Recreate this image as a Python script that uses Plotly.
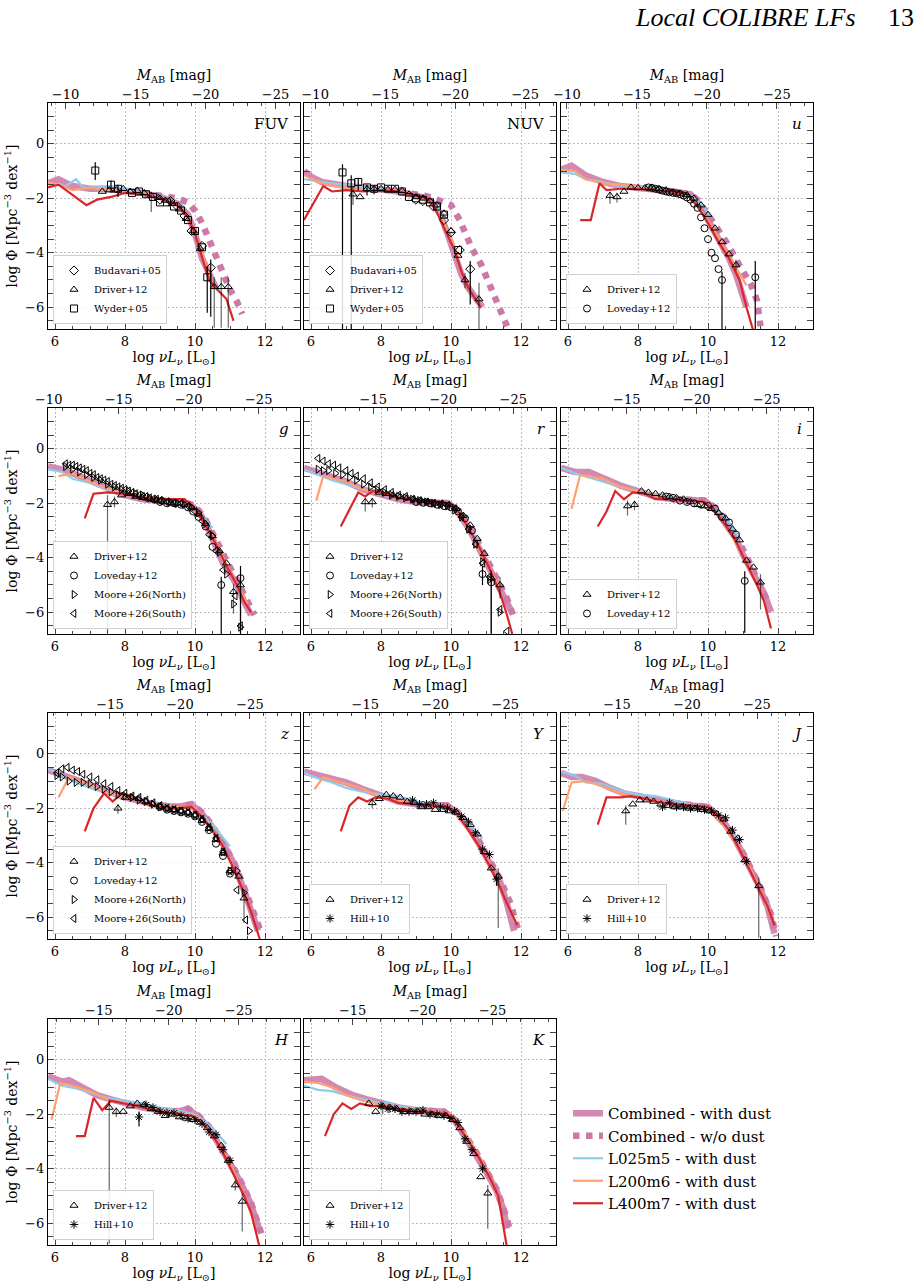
import plotly.graph_objects as go

W, H = 922, 1285
XR = [5.8, 13.0]
YR = [-6.8, 1.5]

BANDS = ["FUV", "NUV", "u", "g", "r", "i", "z", "Y", "J", "H", "K"]
BAND_TEXT = ["FUV", "NUV", "<i>u</i>", "<i>g</i>", "<i>r</i>", "<i>i</i>", "<i>z</i>",
             "<i>Y</i>", "<i>J</i>", "<i>H</i>", "<i>K</i>"]
# log nu L_nu corresponding to M_AB = -20 in each band (top-axis alignment)
M20_LOGL = [10.3, 10.12, 9.97, 9.82, 9.78, 9.68, 9.57, 9.55, 9.4, 9.25, 9.19]

COL_PX = [(48, 300), (304, 556), (561, 813)]
ROW_PX = [(103, 329), (408, 634), (713, 939), (1019, 1245)]

# ---------------- simulation curves ----------------
COMBINED = {
    "FUV": ([5.8, 6.1, 6.5, 7.0, 7.5, 8.0, 8.5, 9.0, 9.5, 9.8, 10.0, 10.2, 10.4, 10.6],
            [-1.45, -1.3, -1.55, -1.65, -1.65, -1.7, -1.8, -1.95, -2.2, -2.6, -3.3, -4.2, -4.8, -5.3]),
    "NUV": ([5.8, 6.0, 6.3, 6.7, 7.0, 7.5, 8.0, 8.5, 9.0, 9.3, 9.5, 9.7, 9.9, 10.1, 10.3, 10.5, 10.7, 10.9],
            [-1.0, -1.2, -1.4, -1.5, -1.55, -1.6, -1.65, -1.75, -1.9, -2.0, -2.2, -2.6, -3.3, -4.0, -4.8, -5.3, -5.7, -6.0]),
    "u": ([5.8, 6.1, 6.5, 7.0, 7.5, 8.0, 8.5, 9.0, 9.5, 9.8, 10.0, 10.3, 10.6, 10.8, 11.0, 11.1],
          [-0.95, -0.8, -1.15, -1.4, -1.55, -1.6, -1.68, -1.75, -1.85, -2.3, -2.8, -3.5, -4.2, -4.8, -5.6, -6.0]),
    "g": ([5.8, 6.2, 6.6, 7.0, 7.5, 8.0, 8.5, 9.0, 9.5, 9.8, 10.0, 10.2, 10.4, 10.6, 10.8, 11.0, 11.2, 11.4, 11.6],
          [-0.65, -0.75, -0.95, -1.15, -1.45, -1.7, -1.85, -1.9, -1.95, -2.0, -2.2, -2.5, -3.0, -3.6, -4.2, -4.6, -5.0, -5.6, -6.1]),
    "r": ([5.8, 6.2, 6.6, 7.0, 7.5, 8.0, 8.5, 9.0, 9.5, 9.9, 10.1, 10.3, 10.5, 10.7, 10.9, 11.1, 11.3, 11.5, 11.7],
          [-0.7, -0.85, -1.0, -1.2, -1.5, -1.7, -1.85, -1.95, -2.0, -2.0, -2.15, -2.5, -2.9, -3.4, -3.9, -4.4, -4.8, -5.3, -5.9]),
    "i": ([5.8, 6.2, 6.6, 7.0, 7.5, 8.0, 8.5, 9.0, 9.5, 9.9, 10.2, 10.5, 10.8, 11.0, 11.3, 11.6, 11.8],
          [-0.7, -0.85, -0.85, -1.1, -1.35, -1.55, -1.75, -1.85, -1.9, -1.9, -2.2, -2.8, -3.3, -3.9, -4.6, -5.3, -6.0]),
    "z": ([5.8, 6.2, 6.6, 7.0, 7.5, 8.0, 8.5, 9.0, 9.5, 9.9, 10.2, 10.5, 10.8, 11.1, 11.4, 11.6, 11.8],
          [-0.6, -0.75, -0.95, -1.15, -1.4, -1.6, -1.75, -1.9, -1.95, -1.85, -2.2, -2.7, -3.3, -4.0, -5.0, -5.8, -6.5]),
    "Y": ([5.8, 6.2, 6.6, 7.0, 7.5, 8.0, 8.5, 9.0, 9.5, 9.9, 10.2, 10.5, 10.8, 11.1, 11.4, 11.6, 11.8],
          [-0.65, -0.8, -0.9, -1.05, -1.3, -1.55, -1.75, -1.85, -1.9, -1.9, -2.2, -2.7, -3.3, -4.0, -4.7, -5.5, -6.5]),
    "J": ([5.8, 6.1, 6.4, 6.8, 7.2, 7.6, 8.0, 8.5, 9.0, 9.5, 10.0, 10.2, 10.5, 10.8, 11.1, 11.4, 11.7, 11.9],
          [-0.7, -0.85, -0.85, -1.0, -1.25, -1.45, -1.55, -1.7, -1.8, -1.9, -1.95, -2.2, -2.6, -3.2, -3.9, -4.7, -5.6, -6.6]),
    "H": ([5.8, 6.2, 6.4, 6.8, 7.2, 7.6, 8.0, 8.5, 9.0, 9.5, 9.8, 10.1, 10.4, 10.7, 11.0, 11.3, 11.6, 11.85],
          [-0.6, -0.8, -0.75, -1.05, -1.3, -1.45, -1.6, -1.75, -1.85, -1.9, -1.8, -2.1, -2.5, -3.1, -3.8, -4.5, -5.3, -6.3]),
    "K": ([5.8, 6.1, 6.3, 6.7, 7.2, 7.6, 8.0, 8.5, 9.0, 9.4, 9.8, 10.1, 10.4, 10.7, 11.0, 11.3, 11.5, 11.6],
          [-0.75, -0.75, -0.7, -1.0, -1.3, -1.45, -1.6, -1.75, -1.85, -1.85, -1.9, -2.2, -2.8, -3.4, -4.1, -4.8, -5.5, -6.2]),
}

NODUST = {
    "FUV": ([8.5, 9.0, 9.5, 9.8, 10.0, 10.2, 10.4, 10.6, 10.8, 11.0, 11.2, 11.35],
            [-1.8, -1.9, -2.0, -2.15, -2.45, -2.9, -3.55, -4.2, -4.75, -5.35, -5.8, -6.25]),
    "NUV": ([8.5, 9.0, 9.3, 9.6, 10.0, 10.25, 10.6, 10.85, 11.1, 11.4, 11.6],
            [-1.75, -1.85, -1.92, -2.05, -2.25, -2.8, -3.85, -4.4, -5.15, -6.05, -6.7]),
    "u": ([8.5, 9.0, 9.5, 9.72, 9.96, 10.24, 10.52, 10.75, 10.98, 11.22, 11.4, 11.5],
          [-1.68, -1.75, -1.85, -2.08, -2.5, -3.06, -3.6, -4.16, -4.65, -5.14, -5.75, -6.7]),
    "g": ([9.0, 9.5, 9.9, 10.1, 10.3, 10.5, 10.7, 10.9, 11.1, 11.3, 11.5, 11.7],
          [-1.9, -1.95, -2.05, -2.25, -2.6, -3.1, -3.65, -4.2, -4.65, -5.1, -5.6, -6.1]),
    "r": ([9.0, 9.5, 9.9, 10.2, 10.5, 10.8, 11.1, 11.4, 11.6, 11.8],
          [-1.95, -2.0, -2.0, -2.25, -2.8, -3.5, -4.25, -4.95, -5.5, -6.2]),
    "i": ([9.0, 9.5, 9.9, 10.2, 10.5, 10.8, 11.1, 11.4, 11.7],
          [-1.85, -1.9, -1.9, -2.15, -2.7, -3.2, -3.95, -4.75, -5.6]),
    "z": ([9.0, 9.5, 9.9, 10.2, 10.5, 10.8, 11.1, 11.4, 11.7, 11.9],
          [-1.9, -1.95, -1.85, -2.15, -2.65, -3.25, -3.95, -4.9, -5.9, -6.6]),
    "Y": ([9.0, 9.5, 9.9, 10.2, 10.5, 10.8, 11.1, 11.4, 11.7, 11.95],
          [-1.85, -1.9, -1.9, -2.15, -2.6, -3.2, -3.9, -4.6, -5.5, -6.6]),
    "J": ([9.0, 9.5, 10.0, 10.3, 10.6, 10.9, 11.2, 11.5, 11.8, 11.95],
          [-1.8, -1.9, -1.95, -2.3, -2.75, -3.4, -4.1, -4.9, -5.9, -6.7]),
    "H": ([9.0, 9.5, 9.8, 10.1, 10.4, 10.7, 11.0, 11.3, 11.6, 11.9],
          [-1.85, -1.9, -1.8, -2.05, -2.45, -3.05, -3.75, -4.45, -5.25, -6.4]),
    "K": ([9.0, 9.4, 9.8, 10.1, 10.4, 10.7, 11.0, 11.3, 11.5, 11.7],
          [-1.85, -1.85, -1.9, -2.2, -2.75, -3.35, -4.05, -4.75, -5.45, -6.3]),
}

L025M5 = {
    "FUV": ([5.8, 6.3, 6.6, 6.8, 7.2, 7.6, 8.0, 8.5, 9.0, 9.5, 9.7],
            [-1.45, -1.55, -1.3, -1.6, -1.6, -1.55, -1.65, -1.8, -1.95, -2.15, -2.35]),
    "NUV": ([5.8, 6.3, 6.6, 7.0, 7.5, 8.0, 8.5, 9.0, 9.5, 9.7],
            [-1.3, -1.4, -1.45, -1.5, -1.6, -1.65, -1.75, -1.9, -2.2, -2.5]),
    "u": ([5.8, 6.2, 6.5, 7.0, 7.5, 8.0, 8.5, 9.0, 9.5, 9.8, 10.1],
          [-1.05, -1.1, -1.3, -1.4, -1.6, -1.55, -1.6, -1.75, -1.9, -2.2, -2.7]),
    "g": ([5.8, 6.2, 6.5, 7.0, 7.5, 8.0, 8.5, 9.0, 9.5, 10.0, 10.5],
          [-0.75, -0.85, -1.1, -1.25, -1.5, -1.6, -1.75, -1.9, -2.0, -2.2, -2.9]),
    "r": ([5.8, 6.2, 6.6, 7.0, 7.5, 8.0, 8.5, 9.0, 9.5, 10.0, 10.5, 10.8],
          [-0.75, -0.95, -1.15, -1.3, -1.5, -1.65, -1.8, -1.9, -2.0, -2.1, -2.9, -3.4]),
    "i": ([5.8, 6.2, 6.6, 7.0, 7.5, 8.0, 8.5, 9.0, 9.5, 10.0, 10.5, 10.9],
          [-0.7, -0.9, -1.05, -1.2, -1.4, -1.55, -1.65, -1.75, -1.9, -2.05, -2.5, -3.3]),
    "z": ([5.8, 6.2, 6.6, 7.0, 7.5, 8.0, 8.5, 9.0, 9.5, 10.0, 10.5, 11.0],
          [-0.55, -0.8, -1.05, -1.25, -1.45, -1.6, -1.7, -1.85, -1.95, -2.05, -2.6, -3.4]),
    "Y": ([5.8, 6.2, 6.6, 7.0, 7.5, 8.0, 8.5, 9.0, 9.5, 10.0, 10.5, 10.9],
          [-0.7, -0.9, -1.05, -1.25, -1.4, -1.5, -1.55, -1.75, -1.85, -2.05, -2.6, -3.1]),
    "J": ([5.8, 6.2, 6.5, 7.0, 7.5, 8.0, 8.5, 9.0, 9.5, 10.0, 10.5, 10.9],
          [-0.65, -0.8, -1.05, -1.1, -1.35, -1.5, -1.55, -1.7, -1.85, -1.95, -2.6, -3.2]),
    "H": ([5.8, 6.2, 6.6, 7.0, 7.5, 8.0, 8.5, 9.0, 9.5, 10.0, 10.5, 10.9],
          [-0.7, -0.95, -1.05, -1.2, -1.4, -1.5, -1.6, -1.75, -1.85, -2.0, -2.5, -3.1]),
    "K": ([5.8, 6.2, 6.6, 7.0, 7.5, 8.0, 8.2, 8.5, 9.0, 9.5, 10.0, 10.3, 10.6, 10.8],
          [-0.95, -1.1, -1.15, -1.3, -1.45, -1.6, -1.55, -1.7, -1.8, -1.9, -2.05, -2.6, -3.3, -3.5]),
}

L200M6 = {
    "FUV": ([5.8, 6.1, 6.5, 7.0, 7.5, 8.0, 8.5, 9.0, 9.5, 9.8, 10.0, 10.2, 10.4],
            [-1.4, -1.5, -1.7, -1.6, -1.7, -1.75, -1.8, -2.0, -2.25, -2.7, -3.3, -4.0, -4.8]),
    "NUV": ([5.8, 6.3, 6.7, 7.0, 7.5, 8.0, 8.5, 9.0, 9.5, 9.8, 10.0, 10.2],
            [-1.15, -1.45, -1.55, -1.6, -1.7, -1.7, -1.75, -1.9, -2.25, -2.9, -3.5, -4.1]),
    "u": ([5.8, 6.2, 6.5, 7.0, 7.5, 8.0, 9.0, 9.5, 10.0, 10.5, 10.9, 11.1],
          [-0.95, -1.0, -1.3, -1.45, -1.5, -1.6, -1.75, -1.95, -2.8, -3.9, -4.8, -5.2]),
    "g": ([6.1, 6.5, 7.0, 7.5, 8.0, 9.0, 9.5, 10.0, 10.5, 11.0, 11.5],
          [-1.0, -0.9, -1.2, -1.45, -1.6, -1.85, -1.9, -2.2, -3.2, -4.5, -5.7]),
    "r": ([6.15, 6.35, 7.0, 7.5, 8.0, 9.0, 9.5, 10.0, 10.5, 11.0, 11.4],
          [-1.9, -1.0, -1.2, -1.5, -1.65, -1.9, -1.95, -2.1, -2.9, -4.2, -5.1]),
    "i": ([6.1, 6.35, 7.0, 7.5, 8.0, 9.0, 9.5, 10.0, 10.5, 11.0, 11.5],
          [-2.2, -0.95, -1.1, -1.4, -1.55, -1.85, -1.9, -2.0, -2.8, -3.9, -5.2]),
    "z": ([6.1, 6.4, 7.0, 7.5, 8.0, 9.0, 9.5, 10.0, 10.5, 11.0, 11.5],
          [-1.6, -0.85, -1.15, -1.45, -1.6, -1.9, -1.95, -2.0, -2.75, -3.9, -5.4]),
    "Y": ([6.1, 6.35, 6.7, 7.0, 7.5, 8.0, 9.0, 9.5, 10.0, 10.5, 11.0, 11.5],
          [-1.3, -0.85, -1.0, -1.1, -1.3, -1.6, -1.85, -1.9, -2.0, -2.8, -3.8, -5.2]),
    "J": ([5.85, 6.1, 6.5, 7.0, 7.5, 8.0, 9.0, 9.5, 10.0, 10.5, 11.0, 11.5, 11.8],
          [-2.1, -1.05, -1.0, -1.2, -1.45, -1.6, -1.85, -1.9, -1.95, -2.7, -3.7, -5.0, -6.0]),
    "H": ([5.9, 6.15, 6.5, 7.0, 7.5, 8.0, 9.0, 9.5, 10.0, 10.5, 11.0, 11.5, 11.7],
          [-2.2, -0.85, -0.95, -1.15, -1.45, -1.6, -1.85, -1.95, -2.05, -2.7, -3.8, -5.3, -6.0]),
    "K": ([5.8, 6.2, 6.6, 7.0, 7.5, 8.0, 9.0, 9.5, 10.0, 10.5, 11.0, 11.4],
          [-0.8, -0.85, -1.0, -1.3, -1.5, -1.65, -1.85, -1.9, -2.0, -2.9, -4.0, -5.2]),
}

L400M7 = {
    "FUV": ([5.8, 6.1, 6.9, 7.2, 7.6, 8.0, 8.5, 9.0, 9.5, 9.8, 10.0, 10.2, 10.4, 10.6, 10.9, 11.1],
            [-1.6, -1.5, -2.25, -2.05, -1.95, -1.8, -1.85, -2.0, -2.25, -2.7, -3.3, -4.2, -5.0, -5.3, -5.7, -6.5]),
    "NUV": ([5.8, 6.35, 6.6, 7.0, 7.5, 8.0, 8.5, 9.0, 9.3, 9.5, 9.7, 9.9, 10.1, 10.3, 10.5, 10.7, 10.85],
            [-2.8, -1.55, -1.75, -1.7, -1.75, -1.7, -1.75, -1.9, -2.0, -2.25, -2.8, -3.4, -3.9, -4.7, -5.3, -5.7, -6.0]),
    "u": ([6.35, 6.65, 6.9, 7.1, 7.5, 8.0, 8.5, 9.0, 9.4, 9.7, 10.0, 10.3, 10.6, 10.9, 11.1, 11.3],
          [-2.8, -2.8, -1.45, -1.7, -1.65, -1.65, -1.7, -1.75, -1.85, -2.3, -2.9, -3.6, -4.2, -5.0, -6.0, -6.9]),
    "g": ([6.85, 7.1, 7.5, 8.0, 8.5, 9.0, 9.5, 9.7, 10.0, 10.3, 10.6, 10.9, 11.2, 11.4, 11.6],
          [-2.55, -1.65, -1.6, -1.65, -1.8, -1.85, -1.85, -1.85, -2.2, -2.8, -3.5, -4.3, -5.0, -5.6, -6.0]),
    "r": ([6.85, 7.1, 7.35, 7.55, 7.75, 8.0, 8.5, 9.0, 9.5, 9.9, 10.2, 10.5, 10.8, 11.1, 11.4, 11.6, 11.75],
          [-2.85, -2.2, -1.6, -1.75, -1.55, -1.6, -1.8, -1.9, -1.95, -2.0, -2.3, -2.9, -3.6, -4.4, -5.3, -6.1, -6.8]),
    "i": ([6.85, 7.1, 7.35, 7.6, 7.85, 8.2, 8.5, 9.0, 9.5, 9.9, 10.2, 10.5, 10.8, 11.1, 11.4, 11.6, 11.8],
          [-2.85, -2.3, -1.55, -1.85, -1.6, -1.65, -1.85, -1.85, -1.9, -1.95, -2.3, -2.8, -3.4, -4.2, -5.0, -5.6, -6.6]),
    "z": ([6.85, 7.1, 7.4, 7.65, 7.9, 8.2, 8.5, 9.0, 9.5, 9.9, 10.2, 10.5, 10.8, 11.1, 11.4, 11.6, 11.85],
          [-2.85, -2.0, -1.45, -1.75, -1.45, -1.55, -1.8, -1.95, -2.0, -1.95, -2.3, -2.8, -3.4, -4.2, -5.1, -5.8, -6.8]),
    "Y": ([6.85, 7.1, 7.35, 7.6, 7.85, 8.2, 8.5, 9.0, 9.5, 9.9, 10.2, 10.5, 10.8, 11.1, 11.4, 11.6, 11.9],
          [-2.85, -1.9, -1.6, -1.75, -1.6, -1.65, -1.8, -1.85, -1.9, -1.95, -2.25, -2.8, -3.4, -4.1, -4.9, -5.5, -6.3]),
    "J": ([6.85, 7.1, 7.5, 7.8, 8.2, 8.5, 9.0, 9.5, 10.0, 10.3, 10.6, 10.9, 11.2, 11.5, 11.7, 11.9],
          [-2.6, -1.6, -1.6, -1.55, -1.65, -1.75, -1.85, -1.9, -1.95, -2.3, -2.8, -3.5, -4.3, -5.1, -5.6, -6.3]),
    "H": ([6.6, 6.85, 7.1, 7.35, 7.6, 8.0, 8.5, 9.0, 9.5, 9.9, 10.2, 10.5, 10.8, 11.1, 11.4, 11.6, 11.85],
          [-2.8, -2.8, -1.4, -1.85, -1.5, -1.6, -1.75, -1.9, -2.0, -2.05, -2.3, -2.75, -3.4, -4.2, -5.0, -5.6, -6.9]),
    "K": ([6.4, 6.65, 6.9, 7.15, 7.4, 7.7, 8.0, 8.5, 9.0, 9.5, 9.9, 10.2, 10.5, 10.8, 11.1, 11.35, 11.6],
          [-2.8, -2.0, -1.6, -1.8, -1.6, -1.7, -1.7, -1.8, -1.9, -1.95, -2.0, -2.4, -3.0, -3.6, -4.3, -5.0, -6.9]),
}

# ---------------- observations ----------------
BUDAVARI = {
    "FUV": ([9.0, 9.3, 9.5, 9.7, 9.9, 10.2, 10.45], [-2.05, -2.1, -2.3, -2.65, -3.2, -3.75, -4.55]),
    "NUV": ([9.0, 9.2, 9.5, 9.8, 10.0, 10.25, 10.55], [-2.05, -2.1, -2.3, -2.8, -3.25, -3.9, -4.6]),
}
BUDAVARI_ERR = {"FUV": [(10.45, 0.3, 1.8)], "NUV": [(10.55, 0.3, 1.3)]}

WYDER = {
    "FUV": ([7.15, 7.6, 7.8, 8.2, 8.4, 8.6, 8.8, 9.0, 9.2, 9.4, 9.6, 9.8, 10.0, 10.2, 10.35],
            [-0.98, -1.5, -1.65, -1.8, -1.75, -1.85, -1.95, -2.15, -2.15, -2.3, -2.45, -2.8, -3.2, -3.8, -4.9]),
    "NUV": ([6.9, 7.15, 7.35, 7.6, 7.8, 8.0, 8.2, 8.4, 8.6, 8.8, 9.0, 9.2, 9.4, 9.6, 9.8, 10.2],
            [-1.05, -1.45, -1.4, -1.6, -1.65, -1.6, -1.65, -1.65, -1.75, -1.95, -2.0, -2.05, -2.15, -2.3, -2.6, -3.9]),
}
WYDER_ERR = {
    "FUV": [(7.15, 0.3, 0.35), (7.6, 0.15, 0.3), (7.8, 0.15, 0.3), (10.35, 0.4, 1.3)],
    "NUV": [(6.9, 0.3, 5.75), (7.15, 0.3, 5.35), (7.35, 0.15, 0.3), (7.6, 0.1, 0.3), (7.8, 0.1, 0.2)],
}

DRIVER = {
    "FUV": ([7.35, 7.55, 7.75, 7.95, 8.15, 8.35, 8.55, 8.75, 8.95, 9.15, 9.35, 9.55, 9.75, 9.95, 10.15, 10.55, 10.75, 10.95],
            [-1.75, -1.7, -1.7, -1.65, -1.75, -1.72, -1.8, -1.9, -1.98, -2.08, -2.2, -2.4, -2.75, -3.2, -3.85, -5.25, -5.25, -5.25]),
    "NUV": ([7.2, 7.4, 7.6, 7.8, 8.0, 8.2, 8.4, 8.6, 8.8, 9.0, 9.2, 9.4, 9.6, 9.8, 10.0, 10.2, 10.4, 10.8],
            [-1.85, -1.95, -1.65, -1.65, -1.65, -1.68, -1.68, -1.72, -1.85, -1.95, -2.0, -2.1, -2.25, -2.55, -3.2, -4.1, -5.0, -5.7]),
    "u": ([7.2, 7.4, 7.6, 7.8, 8.0, 8.2, 8.4, 8.6, 8.8, 9.0, 9.2, 9.4, 9.6, 9.8, 10.0, 10.2, 10.4, 10.6, 10.8],
          [-1.9, -1.95, -1.75, -1.6, -1.62, -1.62, -1.6, -1.65, -1.7, -1.78, -1.82, -1.88, -2.0, -2.25, -2.6, -3.1, -3.6, -4.05, -4.45]),
    "g": ([7.5, 7.7, 7.9, 8.1, 8.3, 8.5, 8.7, 8.9, 9.1, 9.3, 9.5, 9.7, 9.9, 10.1, 10.3, 10.5, 10.7, 10.9, 11.1, 11.3],
          [-2.05, -1.95, -1.7, -1.65, -1.75, -1.8, -1.85, -1.9, -1.95, -2.0, -2.0, -2.05, -2.15, -2.4, -2.75, -3.2, -3.75, -4.2, -5.25, -5.0]),
    "r": ([7.55, 7.75, 7.95, 8.15, 8.35, 8.55, 8.75, 8.95, 9.15, 9.35, 9.55, 9.75, 9.95, 10.15, 10.35, 10.55, 10.75, 10.95, 11.15, 11.4],
          [-1.95, -1.95, -1.6, -1.65, -1.7, -1.75, -1.8, -1.85, -1.9, -1.95, -2.0, -2.0, -2.05, -2.2, -2.45, -2.8, -3.3, -3.85, -4.75, -5.0]),
    "i": ([7.7, 7.9, 8.1, 8.3, 8.5, 8.7, 8.9, 9.1, 9.3, 9.5, 9.7, 9.9, 10.1, 10.3, 10.5, 10.7, 10.9, 11.1, 11.3, 11.5],
          [-2.1, -2.05, -1.55, -1.6, -1.65, -1.7, -1.75, -1.8, -1.85, -1.95, -2.05, -2.1, -2.2, -2.35, -2.55, -2.95, -3.35, -4.1, -4.35, -4.9]),
    "z": ([7.8, 8.0, 8.2, 8.4, 8.6, 8.8, 9.0, 9.2, 9.4, 9.6, 9.8, 10.0, 10.2, 10.4, 10.6, 10.8, 11.0, 11.25, 11.4],
          [-2.0, -1.6, -1.6, -1.65, -1.75, -1.85, -1.95, -2.0, -2.05, -2.1, -2.15, -2.25, -2.45, -2.75, -3.15, -3.65, -4.3, -4.5, -5.3]),
    "Y": ([7.75, 7.95, 8.15, 8.35, 8.55, 8.75, 8.95, 9.15, 9.35, 9.55, 9.75, 9.95, 10.15, 10.35, 10.55, 10.75, 10.95, 11.15, 11.35],
          [-1.8, -1.65, -1.5, -1.55, -1.6, -1.75, -1.8, -1.95, -1.95, -2.05, -2.05, -2.1, -2.15, -2.35, -2.6, -2.95, -3.6, -4.2, -4.5]),
    "J": ([7.65, 7.85, 8.05, 8.25, 8.45, 8.65, 8.85, 9.05, 9.25, 9.45, 9.65, 9.85, 10.05, 10.25, 10.45, 10.65, 10.85, 11.05, 11.45],
          [-2.1, -1.85, -1.7, -1.7, -1.75, -1.85, -1.9, -1.95, -1.95, -2.0, -2.0, -2.05, -2.1, -2.2, -2.4, -2.85, -3.1, -3.9, -4.85]),
    "H": ([7.55, 7.75, 7.95, 8.15, 8.35, 8.55, 8.75, 8.95, 9.15, 9.35, 9.55, 9.75, 9.95, 10.15, 10.35, 10.55, 10.75, 10.95, 11.15, 11.35],
          [-1.75, -1.9, -1.9, -1.7, -1.6, -1.65, -1.8, -1.9, -2.05, -2.0, -2.1, -2.15, -2.2, -2.3, -2.5, -2.8, -3.15, -3.7, -4.6, -5.2]),
    "K": ([7.65, 7.85, 8.05, 8.25, 8.45, 8.65, 8.85, 9.05, 9.25, 9.45, 9.65, 9.85, 10.05, 10.25, 10.45, 10.65, 10.85, 11.05],
          [-1.6, -1.9, -1.7, -1.75, -1.8, -1.9, -1.9, -1.9, -2.0, -2.0, -2.05, -2.05, -2.2, -2.5, -3.0, -3.45, -4.3, -4.9]),
}
DRIVER_ERR = {
    "FUV": [(8.75, 0.1, 0.6), (10.55, 0.35, 1.5), (10.75, 0.35, 1.5), (10.95, 0.35, 1.5)],
    "NUV": [(7.2, 0.3, 0.4), (10.4, 0.25, 0.3), (10.8, 0.6, 1.1)],
    "u": [(7.2, 0.15, 0.3), (7.4, 0.15, 0.2), (10.8, 0.2, 0.2)],
    "g": [(7.5, 0.35, 4.7), (7.7, 0.2, 0.2), (11.1, 0.3, 0.8), (11.3, 0.3, 1.5)],
    "r": [(7.55, 0.15, 0.35), (7.75, 0.15, 0.2), (11.15, 0.3, 2.0), (11.4, 0.3, 0.5)],
    "i": [(7.7, 0.2, 0.35), (7.9, 0.15, 0.2), (11.5, 0.3, 1.0)],
    "z": [(7.8, 0.15, 0.2), (11.4, 0.3, 0.9)],
    "Y": [(7.75, 0.15, 0.2), (11.35, 0.3, 1.9)],
    "J": [(7.65, 0.2, 0.5), (11.45, 0.3, 1.9)],
    "H": [(7.55, 0.3, 5.0), (7.75, 0.15, 0.2), (11.15, 0.2, 0.2), (11.35, 0.3, 1.1)],
    "K": [(8.05, 0.1, 0.3), (8.25, 0.1, 0.2), (11.05, 0.3, 1.3)],
}

LOVEDAY = {
    "u": ([8.3, 8.4, 8.5, 8.6, 8.7, 8.8, 8.9, 9.0, 9.1, 9.2, 9.3, 9.4, 9.5, 9.6, 9.7, 9.8, 9.9, 10.0, 10.1, 10.2, 10.3, 10.4, 11.35],
          [-1.6, -1.62, -1.65, -1.68, -1.72, -1.75, -1.78, -1.8, -1.82, -1.85, -1.9, -1.97, -2.05, -2.2, -2.35, -2.7, -3.1, -3.5, -4.0, -4.2, -4.6, -5.0, -4.9]),
    "g": ([9.0, 9.2, 9.4, 9.6, 9.8, 9.95, 10.1, 10.3, 10.5, 10.75, 11.3],
          [-1.95, -2.0, -2.0, -2.05, -2.15, -2.3, -2.5, -2.85, -3.6, -5.0, -4.75]),
    "r": ([9.0, 9.2, 9.4, 9.6, 9.8, 10.0, 10.2, 10.4, 10.6, 10.9, 11.15],
          [-1.95, -1.98, -2.0, -2.05, -2.1, -2.15, -2.3, -2.55, -3.0, -4.6, -4.9]),
    "i": ([8.8, 9.0, 9.2, 9.4, 9.6, 9.8, 10.0, 10.2, 10.4, 10.6, 10.8, 11.05],
          [-1.75, -1.8, -1.9, -1.95, -2.0, -2.05, -2.1, -2.2, -2.5, -2.7, -3.15, -4.85]),
    "z": ([9.0, 9.2, 9.4, 9.6, 9.8, 10.0, 10.2, 10.4, 10.6, 10.8, 11.0],
          [-1.95, -2.05, -2.1, -2.15, -2.2, -2.3, -2.5, -2.8, -3.3, -3.75, -4.4]),
}
LOVEDAY_ERR = {
    "u": [(10.4, 0.3, 1.8), (11.35, 0.6, 1.9)],
    "g": [(10.75, 0.3, 1.8), (11.3, 0.45, 2.1)],
    "r": [(10.9, 0.3, 0.4), (11.15, 0.3, 1.9)],
    "i": [(11.05, 0.35, 1.9)],
}

MOORE_N = {
    "g": ([6.3, 6.5, 6.7, 6.9, 7.1, 7.3, 7.5, 7.7, 7.9, 8.1, 8.3, 8.5, 8.7, 8.9, 9.1, 9.3, 9.5, 9.7, 9.9, 10.1, 10.3, 10.5, 10.7, 10.9, 11.1, 11.3],
          [-0.65, -0.75, -0.85, -0.95, -1.05, -1.15, -1.3, -1.4, -1.5, -1.55, -1.65, -1.7, -1.8, -1.85, -1.9, -1.95, -2.0, -2.05, -2.15, -2.35, -2.75, -3.2, -3.8, -4.6, -5.7, -6.55]),
    "r": ([6.2, 6.35, 6.5, 6.7, 6.9, 7.1, 7.3, 7.5, 7.7, 7.9, 8.1, 8.3, 8.5, 8.7, 8.9, 9.1, 9.3, 9.5, 9.7, 9.9, 10.1, 10.3, 10.5, 10.7, 10.9, 11.1, 11.4],
          [-0.75, -0.8, -0.8, -0.9, -0.95, -1.05, -1.15, -1.3, -1.4, -1.5, -1.6, -1.7, -1.75, -1.8, -1.85, -1.9, -1.95, -2.0, -2.05, -2.1, -2.25, -2.5, -2.95, -3.5, -4.15, -4.8, -6.0]),
    "z": ([6.05, 6.2, 6.4, 6.6, 6.8, 7.0, 7.2, 7.4, 7.6, 7.8, 8.0, 8.2, 8.4, 8.6, 8.8, 9.0, 9.2, 9.4, 9.6, 9.8, 10.0, 10.2, 10.4, 10.6, 10.8, 11.0, 11.2, 11.4, 11.55],
          [-0.8, -0.85, -1.0, -1.05, -1.05, -1.1, -1.2, -1.3, -1.4, -1.5, -1.55, -1.6, -1.7, -1.75, -1.85, -1.95, -2.0, -2.05, -2.1, -2.15, -2.25, -2.4, -2.7, -3.1, -3.6, -4.3, -4.3, -5.1, -6.5]),
}

MOORE_S = {
    "g": ([6.3, 6.4, 6.5, 6.6, 6.7, 6.8, 6.9, 7.0, 7.1, 7.2, 7.3, 7.4, 7.5, 7.6, 7.7, 7.8, 7.9, 8.0, 8.1, 8.2, 8.3, 8.4, 8.5, 8.6, 8.7, 8.8, 8.9, 9.0, 9.2, 9.4, 9.6, 9.8, 10.0, 10.2, 10.4, 10.6, 10.8, 11.15, 11.3],
          [-0.55, -0.6, -0.6, -0.65, -0.7, -0.75, -0.8, -0.9, -0.95, -1.05, -1.1, -1.15, -1.2, -1.3, -1.35, -1.4, -1.45, -1.5, -1.55, -1.6, -1.65, -1.7, -1.75, -1.75, -1.8, -1.85, -1.85, -1.9, -1.95, -2.0, -2.0, -2.1, -2.3, -2.65, -3.15, -3.75, -4.45, -5.4, -6.5]),
    "r": ([6.2, 6.35, 6.5, 6.65, 6.8, 7.0, 7.15, 7.3, 7.5, 7.7, 7.9, 8.1, 8.3, 8.5, 8.7, 8.9, 9.1, 9.3, 9.5, 9.7, 9.9, 10.1, 10.3, 10.5, 10.7, 10.9, 11.1, 11.4, 11.6],
          [-0.35, -0.45, -0.55, -0.6, -0.7, -0.8, -0.9, -1.0, -1.1, -1.25, -1.4, -1.5, -1.6, -1.7, -1.75, -1.85, -1.9, -1.95, -2.0, -2.05, -2.1, -2.2, -2.5, -2.95, -3.5, -4.2, -4.7, -5.9, -6.7]),
    "z": ([6.05, 6.2, 6.35, 6.5, 6.65, 6.8, 7.0, 7.2, 7.4, 7.6, 7.8, 8.0, 8.2, 8.4, 8.6, 8.8, 9.0, 9.2, 9.4, 9.6, 9.8, 10.0, 10.2, 10.4, 10.6, 10.8, 11.0, 11.2, 11.45],
          [-0.7, -0.55, -0.5, -0.6, -0.65, -0.75, -0.85, -0.95, -1.1, -1.2, -1.35, -1.45, -1.55, -1.6, -1.7, -1.8, -1.9, -2.0, -2.05, -2.1, -2.15, -2.25, -2.4, -2.7, -3.1, -3.6, -4.3, -5.0, -6.1]),
}

HILL = {
    "Y": ([8.9, 9.1, 9.3, 9.5, 9.7, 9.9, 10.1, 10.3, 10.5, 10.7, 10.9, 11.1, 11.3],
          [-1.7, -1.85, -1.85, -1.8, -1.95, -2.0, -2.1, -2.3, -2.5, -2.9, -3.5, -3.7, -4.6]),
    "J": ([8.7, 8.9, 9.1, 9.3, 9.5, 9.7, 9.9, 10.1, 10.3, 10.5, 10.7, 10.9, 11.1],
          [-1.95, -1.8, -1.95, -1.95, -2.0, -2.0, -2.05, -2.1, -2.25, -2.35, -2.8, -3.15, -3.95]),
    "H": ([8.4, 8.6, 8.8, 9.0, 9.2, 9.4, 9.6, 9.8, 10.0, 10.2, 10.4, 10.6, 10.8, 11.0],
          [-2.1, -1.65, -1.75, -1.9, -1.95, -1.95, -2.05, -2.15, -2.2, -2.35, -2.65, -2.75, -3.3, -3.7]),
    "K": ([8.0, 8.2, 8.4, 8.6, 8.8, 9.0, 9.2, 9.4, 9.6, 9.8, 10.0, 10.2, 10.4, 10.6, 10.9],
          [-1.7, -1.8, -1.8, -1.9, -1.9, -1.9, -1.85, -2.0, -2.0, -2.05, -2.15, -2.3, -2.9, -3.3, -4.0]),
}
HILL_ERR = {"H": [(8.4, 0.2, 0.35)], "Y": [(11.3, 0.2, 0.25)]}

SURVEYS = [
    ("Budavari+05", BUDAVARI, BUDAVARI_ERR, "diamond-open", "black"),
    ("Driver+12", DRIVER, DRIVER_ERR, "triangle-up-open", "rgba(0,0,0,0.6)"),
    ("Hill+10", HILL, HILL_ERR, "asterisk-open", "black"),
    ("Loveday+12", LOVEDAY, LOVEDAY_ERR, "circle-open", "black"),
    ("Moore+26(North)", MOORE_N, {}, "triangle-right-open", "black"),
    ("Moore+26(South)", MOORE_S, {}, "triangle-left-open", "black"),
    ("Wyder+05", WYDER, WYDER_ERR, "square-open", "black"),
]

PINK = "#CC79A7"
BLUE = "#8FCBEA"
ORANGE = "#FFA06E"
RED = "#D8262A"
FONT = "DejaVu Serif"

fig = go.Figure()
layout = dict(width=W, height=H, margin=dict(l=0, r=0, t=0, b=0, autoexpand=False),
              plot_bgcolor="white", paper_bgcolor="white",
              font=dict(family=FONT, size=13, color="black"))
annotations = []


def err_arrays(xs, errs):
    up, dn = [], []
    for xv in xs:
        u = d = 0.0
        for (ex, eu, ed) in errs:
            if abs(ex - xv) < 1e-6:
                u, d = eu, ed
        up.append(u)
        dn.append(d)
    return up, dn


GRID = dict(showgrid=True, gridcolor="#bdbdbd", griddash="2px,2px", gridwidth=0.8)

for k, band in enumerate(BANDS):
    r, c = divmod(k, 3)
    x0, x1 = COL_PX[c]
    y0, y1 = ROW_PX[r]
    xid = "x" if k == 0 else f"x{k+1}"
    yid = "y" if k == 0 else f"y{k+1}"
    xkey = "xaxis" if k == 0 else f"xaxis{k+1}"
    ykey = "yaxis" if k == 0 else f"yaxis{k+1}"
    tid = f"x{k+12}"
    tkey = f"xaxis{k+12}"
    first = (k == 0)

    layout[xkey] = dict(
        domain=[x0 / W, x1 / W], anchor=yid, range=XR, tick0=0, dtick=2, automargin=False,
        ticks="inside", ticklen=6, tickwidth=1.1, showline=True, linecolor="black",
        linewidth=1.4, mirror=True, zeroline=False, tickfont=dict(size=13),
        minor=dict(dtick=0.5, tick0=0, ticks="inside", ticklen=3, tickwidth=0.9, showgrid=False),
        title=dict(text="log <i>νL</i><sub><i>ν</i></sub> [L<sub>⊙</sub>]", font=dict(size=14), standoff=2),
        **GRID,
    )
    ydict = dict(
        domain=[1 - y1 / H, 1 - y0 / H], anchor=xid, range=YR, tick0=0, dtick=2, automargin=False,
        ticks="inside", ticklen=6, tickwidth=1.1, showline=True, linecolor="black",
        linewidth=1.4, mirror="allticks", zeroline=False, showticklabels=(c == 0),
        tickfont=dict(size=13),
        minor=dict(dtick=0.5, tick0=0, ticks="inside", ticklen=3, tickwidth=0.9, showgrid=False),
        **GRID,
    )
    if c == 0:
        ydict["title"] = dict(text="log Φ [Mpc<sup>−3</sup> dex<sup>−1</sup>]",
                              font=dict(size=14), standoff=4)
    layout[ykey] = ydict
    L20 = M20_LOGL[k]
    m_left = -20 - (XR[0] - L20) / 0.4
    m_right = -20 - (XR[1] - L20) / 0.4
    layout[tkey] = dict(
        overlaying=xid, anchor=yid, side="top", range=[m_left, m_right], automargin=False,
        tick0=0, dtick=5, ticks="inside", ticklen=6, tickwidth=1.1,
        showline=False, showgrid=False, zeroline=False, tickfont=dict(size=13),
        minor=dict(dtick=1, tick0=0, ticks="inside", ticklen=3, tickwidth=0.9, showgrid=False),
        title=dict(text="<i>M</i><sub>AB</sub> [mag]", font=dict(size=14), standoff=3),
    )
    # invisible anchor trace for the top axis
    fig.add_trace(go.Scatter(x=[None], y=[None], xaxis=tid, yaxis=yid, showlegend=False,
                             hoverinfo="skip", mode="markers"))

    # simulation curves
    nx, ny = NODUST[band]
    fig.add_trace(go.Scatter(x=nx, y=ny, mode="lines", xaxis=xid, yaxis=yid,
                             line=dict(color=PINK, width=6.5, dash="dot"),
                             name="Combined - w/o dust", legend="legend", legendrank=2,
                             showlegend=first))
    cx, cy = COMBINED[band]
    fig.add_trace(go.Scatter(x=cx, y=cy, mode="lines", xaxis=xid, yaxis=yid,
                             line=dict(color="rgba(204,121,167,0.88)", width=6.5),
                             name="Combined - with dust", legend="legend", legendrank=1,
                             showlegend=first))
    for data, col, nm, rank in [(L025M5, BLUE, "L025m5 - with dust", 3),
                                (L200M6, ORANGE, "L200m6 - with dust", 4),
                                (L400M7, RED, "L400m7 - with dust", 5)]:
        lx, ly = data[band]
        fig.add_trace(go.Scatter(x=lx, y=ly, mode="lines", xaxis=xid, yaxis=yid,
                                 line=dict(color=col, width=2.2), name=nm,
                                 legend="legend", legendrank=rank, showlegend=first))

    # observations
    legname = f"legend{k+2}"
    for name, data, errs, sym, ecol in SURVEYS:
        if band not in data:
            continue
        ox, oy = data[band]
        eb = errs.get(band, [])
        kw = {}
        if eb:
            up, dn = err_arrays(ox, eb)
            kw["error_y"] = dict(type="data", symmetric=False, array=up, arrayminus=dn,
                                 color=ecol, thickness=1.2, width=0)
        fig.add_trace(go.Scatter(x=ox, y=oy, mode="markers", xaxis=xid, yaxis=yid,
                                 name=name, legend=legname, showlegend=True,
                                 marker=dict(symbol=sym, size=7, color="black",
                                             line=dict(color="black", width=1)),
                                 **kw))
    layout[legname] = dict(
        x=(x0 + 5) / W, y=1 - (y1 - 5) / H, xanchor="left", yanchor="bottom",
        bgcolor="rgba(255,255,255,0.85)", bordercolor="#d0d0d0", borderwidth=1,
        font=dict(size=10, family=FONT), tracegroupgap=0, itemwidth=30,
    )
    annotations.append(dict(text=BAND_TEXT[k], xref=f"{xid} domain", yref=f"{yid} domain",
                            x=0.965, y=0.955, xanchor="right", yanchor="top", showarrow=False,
                            font=dict(size=15, family=FONT)))

layout["legend"] = dict(x=568 / W, y=1 - 1097 / H, xanchor="left", yanchor="top",
                        bgcolor="rgba(0,0,0,0)", borderwidth=0,
                        font=dict(size=15, family=FONT), tracegroupgap=0,
                        traceorder="normal")

annotations.append(dict(text="<i>Local COLIBRE LFs</i>", xref="paper", yref="paper",
                        x=858 / W, y=1 - 1 / H, xanchor="right", yanchor="top", showarrow=False,
                        font=dict(size=26, family="Liberation Serif")))
annotations.append(dict(text="13", xref="paper", yref="paper",
                        x=916 / W, y=1 - 1 / H, xanchor="right", yanchor="top", showarrow=False,
                        font=dict(size=26, family="Liberation Serif")))
layout["annotations"] = annotations

fig.update_layout(**layout)
fig.write_html("out.html")
